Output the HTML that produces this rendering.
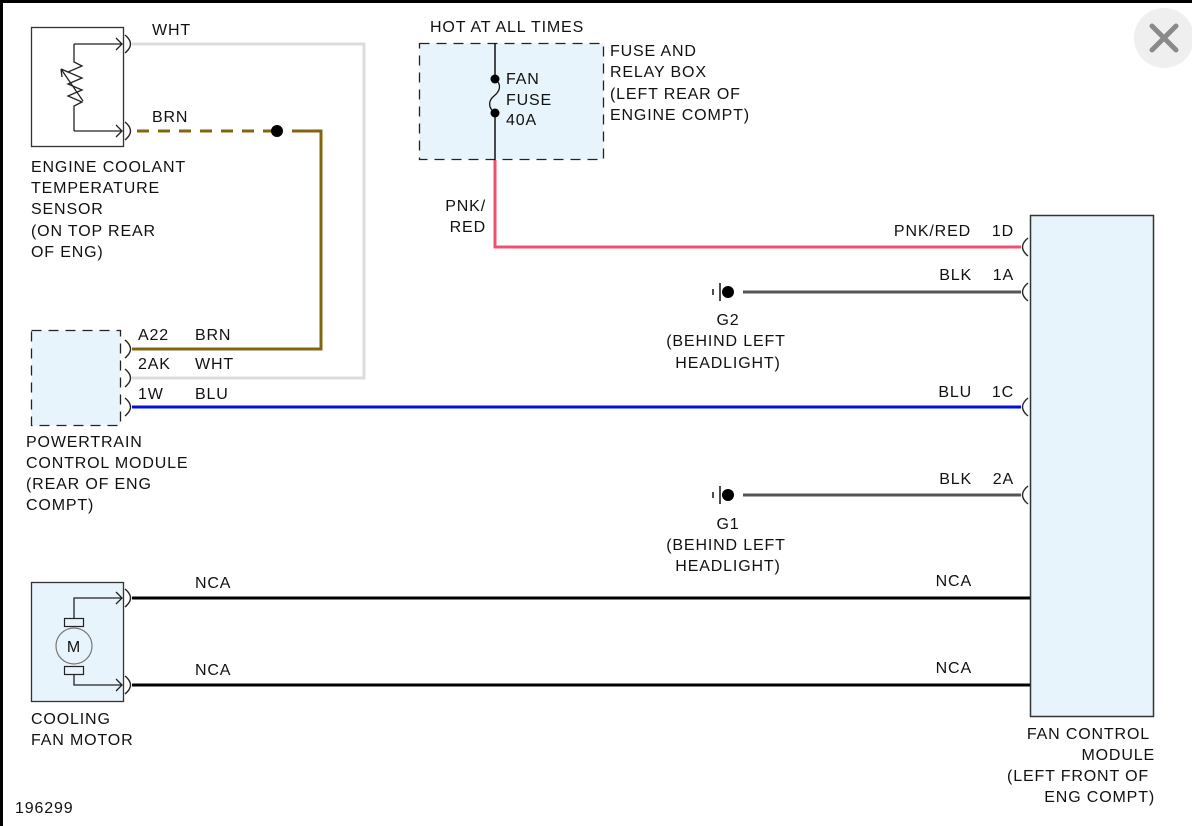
<!DOCTYPE html>
<html><head><meta charset="utf-8"><style>
html,body{margin:0;padding:0;background:#fff;}
svg{display:block;}
text{font-family:"Liberation Sans",Arial,sans-serif;font-size:16px;fill:#111;letter-spacing:0.85px;}
</style></head><body>
<svg width="1192" height="826" viewBox="0 0 1192 826" xmlns="http://www.w3.org/2000/svg">
<rect x="0" y="0" width="1192" height="826" fill="#fff"/>
<rect x="0" y="0" width="1192" height="3" fill="#000"/>
<rect x="0" y="0" width="3" height="826" fill="#000"/>
<circle cx="1164" cy="38" r="30" fill="#efefef"/>
<path d="M1152 26 L1176 50 M1176 26 L1152 50" stroke="#8a8a8a" stroke-width="5" stroke-linecap="round"/>

<path d="M132 44 H364 V378 H132" fill="none" stroke="#dcdcdc" stroke-width="3"/>
<path d="M137 131 H280" fill="none" stroke="#85640f" stroke-width="3" stroke-dasharray="12,9"/>
<path d="M292 131 H321 V349 H132" fill="none" stroke="#85640f" stroke-width="3"/>
<circle cx="277" cy="131" r="6" fill="#000"/>
<line x1="132" y1="407" x2="1021" y2="407" stroke="#0010e0" stroke-width="3"/>
<path d="M495 160 V247 H1021" fill="none" stroke="#f0506a" stroke-width="3"/>
<line x1="743" y1="292" x2="1021" y2="292" stroke="#555" stroke-width="3"/>
<line x1="743" y1="495" x2="1021" y2="495" stroke="#555" stroke-width="3"/>
<line x1="132" y1="598" x2="1030" y2="598" stroke="#000" stroke-width="3"/>
<line x1="132" y1="685" x2="1030" y2="685" stroke="#000" stroke-width="3"/>

<rect x="31.5" y="27.5" width="92" height="119" fill="#fff" stroke="#333" stroke-width="1.3"/>
<path d="M74 44 H122 M116 38 L122 44 L116 50" fill="none" stroke="#222" stroke-width="1.3"/>
<path d="M74 131 H122 M116 125 L122 131 L116 137" fill="none" stroke="#222" stroke-width="1.3"/>
<path d="M74 44 V62 L82 66 L68 72 L82 78 L68 84 L82 90 L68 96 L82 102 L74 106 V131" fill="none" stroke="#222" stroke-width="1.3"/>
<path d="M61 69 L83 101 M61 69 L62 77 M61 69 L68 72" fill="none" stroke="#222" stroke-width="1.3"/>
<g fill="none" stroke="#222" stroke-width="1.4">
<path d="M125 35 Q136 44 125 53"/>
<path d="M125 122 Q136 131 125 140"/>
<path d="M125 340 Q136 349 125 358"/>
<path d="M125 369 Q136 378 125 387"/>
<path d="M125 398 Q136 407 125 416"/>
<path d="M125 589 Q136 598 125 607"/>
<path d="M125 676 Q136 685 125 694"/>
<path d="M1028 238 Q1017 247 1028 256"/>
<path d="M1028 283 Q1017 292 1028 301"/>
<path d="M1028 398 Q1017 407 1028 416"/>
<path d="M1028 486 Q1017 495 1028 504"/>
</g>

<rect x="31.5" y="330.5" width="89" height="95" fill="#e8f4fb" stroke="#222" stroke-width="1.3" stroke-dasharray="10,7"/>

<rect x="419.5" y="43.5" width="184" height="116" fill="#e8f4fb" stroke="#222" stroke-width="1.3" stroke-dasharray="10,7"/>
<line x1="495" y1="43" x2="495" y2="79" stroke="#111" stroke-width="1.5"/>
<line x1="495" y1="113" x2="495" y2="160" stroke="#111" stroke-width="1.5"/>
<path d="M495 79 C503 85 499 92 494 96 C489 100 487 107 495 113" fill="none" stroke="#111" stroke-width="1.3"/>
<circle cx="495" cy="79" r="4.5" fill="#000"/>
<circle cx="495" cy="113" r="4.5" fill="#000"/>

<rect x="1030.5" y="215.5" width="123" height="501" fill="#e8f4fb" stroke="#333" stroke-width="1.5"/>

<g stroke="#111" stroke-width="1.5">
<line x1="713" y1="289" x2="713" y2="295"/>
<line x1="720" y1="283" x2="720" y2="301"/>
<line x1="713" y1="492" x2="713" y2="498"/>
<line x1="720" y1="486" x2="720" y2="504"/>
</g>
<circle cx="728" cy="292" r="6" fill="#000"/>
<circle cx="728" cy="495" r="6" fill="#000"/>

<rect x="31.5" y="582.5" width="92" height="119" fill="#e8f4fb" stroke="#333" stroke-width="1.3"/>
<path d="M74 618 V598 H122 M116 592 L122 598 L116 604" fill="none" stroke="#222" stroke-width="1.3"/>
<path d="M74 674 V685 H122 M116 679 L122 685 L116 691" fill="none" stroke="#222" stroke-width="1.3"/>
<rect x="64.5" y="618.5" width="19" height="8" fill="#e8f4fb" stroke="#222" stroke-width="1.2"/>
<rect x="64.5" y="666.5" width="19" height="8" fill="#e8f4fb" stroke="#222" stroke-width="1.2"/>
<circle cx="74" cy="646" r="18" fill="#e8f4fb" stroke="#777" stroke-width="1.2"/>
<text x="74" y="652" text-anchor="middle">M</text>

<text x="152" y="35">WHT</text>
<text x="152" y="122">BRN</text>
<text x="31" y="172">ENGINE COOLANT</text>
<text x="31" y="193">TEMPERATURE</text>
<text x="31" y="214">SENSOR</text>
<text x="31" y="236">(ON TOP REAR</text>
<text x="31" y="257">OF ENG)</text>

<text x="138" y="340">A22</text><text x="195" y="340">BRN</text>
<text x="138" y="369">2AK</text><text x="195" y="369">WHT</text>
<text x="138" y="399">1W</text><text x="195" y="399">BLU</text>

<text x="26" y="447">POWERTRAIN</text>
<text x="26" y="468">CONTROL MODULE</text>
<text x="26" y="489">(REAR OF ENG</text>
<text x="26" y="510">COMPT)</text>

<text x="430" y="32">HOT AT ALL TIMES</text>
<text x="506" y="84">FAN</text>
<text x="506" y="105">FUSE</text>
<text x="506" y="125">40A</text>
<text x="610" y="56">FUSE AND</text>
<text x="610" y="77">RELAY BOX</text>
<text x="610" y="99">(LEFT REAR OF</text>
<text x="610" y="120">ENGINE COMPT)</text>

<text x="486" y="211" text-anchor="end">PNK/</text>
<text x="486" y="232" text-anchor="end">RED</text>

<text x="971" y="236" text-anchor="end">PNK/RED</text>
<text x="1014" y="236" text-anchor="end">1D</text>
<text x="972" y="280" text-anchor="end">BLK</text>
<text x="1014" y="280" text-anchor="end">1A</text>
<text x="972" y="397" text-anchor="end">BLU</text>
<text x="1014" y="397" text-anchor="end">1C</text>
<text x="972" y="484" text-anchor="end">BLK</text>
<text x="1014" y="484" text-anchor="end">2A</text>

<text x="728" y="325" text-anchor="middle">G2</text>
<text x="726" y="346" text-anchor="middle">(BEHIND LEFT</text>
<text x="728" y="368" text-anchor="middle">HEADLIGHT)</text>
<text x="728" y="529" text-anchor="middle">G1</text>
<text x="726" y="550" text-anchor="middle">(BEHIND LEFT</text>
<text x="728" y="571" text-anchor="middle">HEADLIGHT)</text>

<text x="195" y="588">NCA</text>
<text x="195" y="675">NCA</text>
<text x="972" y="586" text-anchor="end">NCA</text>
<text x="972" y="673" text-anchor="end">NCA</text>

<text x="31" y="724">COOLING</text>
<text x="31" y="745">FAN MOTOR</text>

<text x="1150" y="739" text-anchor="end">FAN CONTROL</text>
<text x="1155" y="760" text-anchor="end">MODULE</text>
<text x="1149" y="781" text-anchor="end">(LEFT FRONT OF</text>
<text x="1155" y="802" text-anchor="end">ENG COMPT)</text>

<text x="15" y="813">196299</text>
</svg>
</body></html>
